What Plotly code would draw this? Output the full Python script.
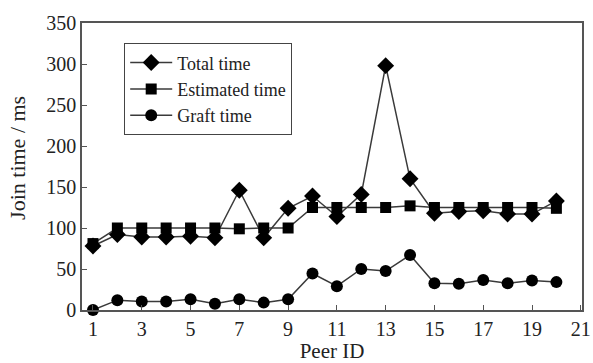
import plotly.graph_objects as go

peer_id = list(range(1, 21))
total_time = [78, 92, 89, 89, 90, 88, 146, 88, 124, 139, 114, 141, 298, 160, 118, 120, 121, 117, 117, 133]
estimated_time = [81, 100, 100, 100, 100, 100, 99, 100, 100, 125, 125, 125, 125, 127, 125, 125, 125, 125, 125, 124]
graft_time = [0, 12, 10.5, 10.5, 13, 7.5, 13, 9, 13, 44.5, 29, 50, 47.5, 67, 32.5, 32, 36.5, 32.5, 36, 34]
x_ticks = [1, 3, 5, 7, 9, 11, 13, 15, 17, 19, 21]
y_ticks = [0, 50, 100, 150, 200, 250, 300, 350]

FONT = "Times New Roman, Liberation Serif, serif"
LINE = "#3a3a3a"

fig = go.Figure()
series = [
    ("Total time", total_time, "diamond", 13),
    ("Estimated time", estimated_time, "square", 11),
    ("Graft time", graft_time, "circle", 12),
]
for name, vals, sym, size in series:
    fig.add_trace(go.Scatter(
        x=peer_id, y=vals, name=name, mode="lines+markers",
        line=dict(color=LINE, width=1.5),
        marker=dict(symbol=sym, size=size, color="black"),
        cliponaxis=False,
    ))

axis_common = dict(
    showline=True, linecolor="#555555", linewidth=1.5, mirror=True,
    ticks="inside", ticklen=5, tickcolor="#555555", tickwidth=1.2,
    showgrid=False, zeroline=False, automargin=False,
    tickfont=dict(family=FONT, size=20, color="#222222"),
)

fig.update_layout(
    width=593, height=363,
    margin=dict(l=82, r=11, t=23, b=53),
    paper_bgcolor="white", plot_bgcolor="white",
    font=dict(family=FONT, color="#222222"),
    showlegend=True,
    legend=dict(
        x=0.084, y=0.93, xanchor="left", yanchor="top",
        bordercolor="#444444", borderwidth=1.2, bgcolor="white",
        font=dict(family=FONT, size=18, color="#222222"),
        itemwidth=42, tracegroupgap=0,
    ),
    xaxis=dict(
        range=[0.55, 21.05], tickvals=x_ticks, ticktext=[str(v) for v in x_ticks],
        title=dict(text="Peer ID", font=dict(family=FONT, size=21), standoff=4),
        **axis_common,
    ),
    yaxis=dict(
        range=[0, 350], tickvals=y_ticks, ticktext=[str(v) for v in y_ticks],
        **axis_common,
    ),
    annotations=[dict(
        text="Join time / ms", textangle=-90, showarrow=False,
        xref="paper", yref="paper", x=-0.128, y=0.53,
        xanchor="center", yanchor="middle",
        font=dict(family=FONT, size=22, color="#222222"),
    )],
)

fig.write_html("out.html")
